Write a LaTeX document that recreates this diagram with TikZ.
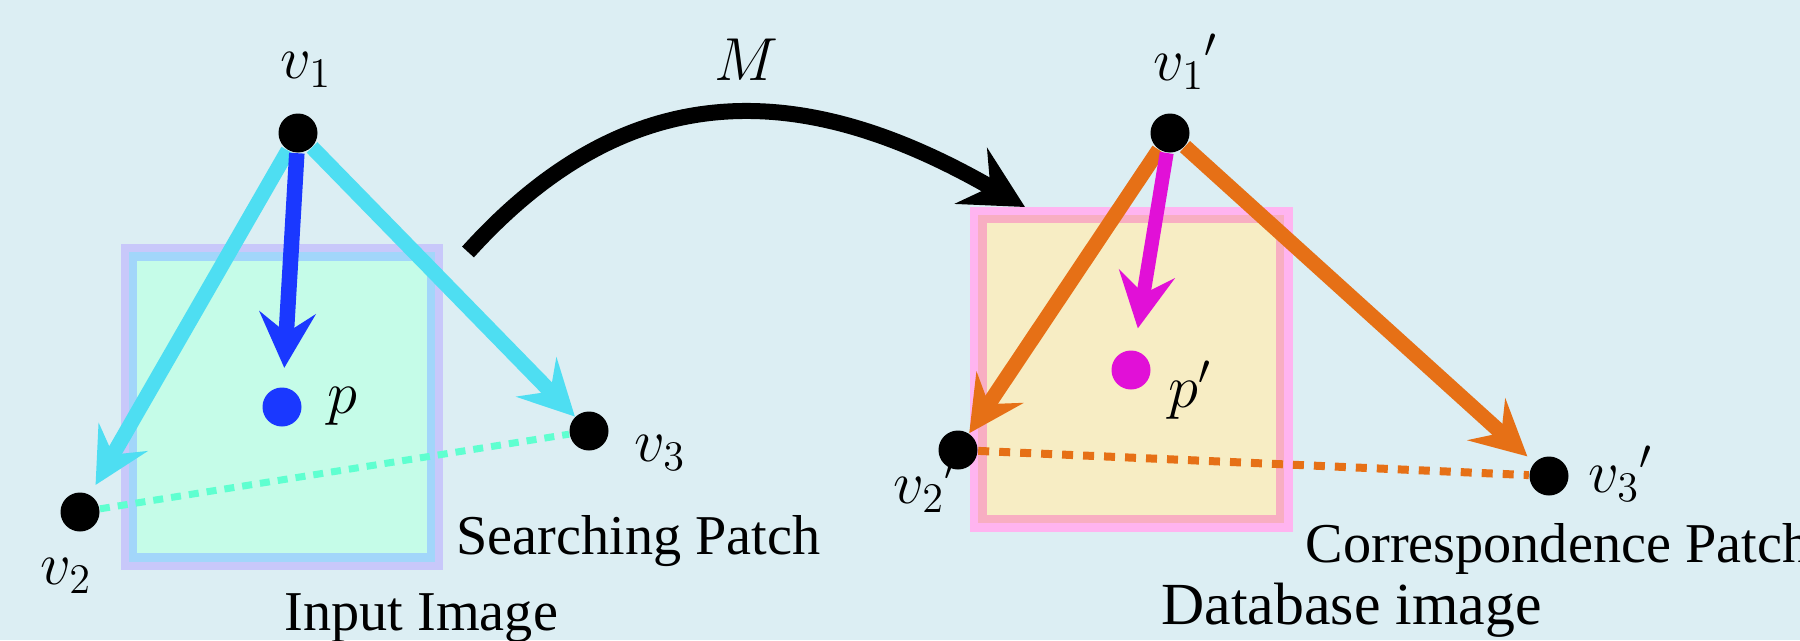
\documentclass[tikz,border=0pt]{standalone}
\usepackage{fontspec}
\setmainfont{Liberation Serif}
\usetikzlibrary{arrows.meta}

\definecolor{bgblue}{RGB}{220,238,243}
\definecolor{patchlav}{RGB}{200,200,250}
\definecolor{patchsky}{RGB}{162,214,250}
\definecolor{patchmint}{RGB}{197,252,232}
\definecolor{raycyan}{RGB}{78,222,242}
\definecolor{rayblue}{RGB}{26,56,255}
\definecolor{dotmint}{RGB}{95,255,208}
\definecolor{patchpink}{RGB}{255,180,240}
\definecolor{patchrose}{RGB}{248,174,194}
\definecolor{patchsand}{RGB}{247,237,196}
\definecolor{rayorange}{RGB}{230,112,22}
\definecolor{raymagenta}{RGB}{225,16,215}

\begin{document}
\begin{tikzpicture}[
    vertex node/.style={circle, fill=black, inner sep=0pt, minimum size=0.39cm},
    point node/.style={circle, fill=#1, inner sep=0pt, minimum size=0.39cm},
    math label/.style={anchor=base west, inner sep=0pt, font=\fontsize{17}{20}\selectfont},
    caption/.style={anchor=base west, inner sep=0pt, font=\fontsize{16}{19}\selectfont},
    ray/.style={draw=#1, line width=0.15cm, -{Stealth[length=0.55cm, width=0.56cm, inset=0.2cm]}},
    tie/.style={draw=#1, line width=0.07cm, dash pattern=on 0.10cm off 0.08cm},
    map line/.style={draw=black, line width=0.16cm, -{Stealth[length=0.62cm, width=0.64cm, inset=0.22cm]}}
]
\useasboundingbox (0,0) rectangle (18,6.4);
\fill[bgblue] (0,0) rectangle (18,6.4);

% Patches
\foreach \c/\d in {patchlav/0, patchsky/0.083, patchmint/0.166} {
    \fill[\c] (1.207+\d, 0.70+\d) rectangle (4.433-\d, 3.96-\d);
}
\foreach \c/\d in {patchpink/0, patchrose/0.083, patchsand/0.166} {
    \fill[\c] (9.70+\d, 1.083+\d) rectangle (12.927-\d, 4.333-\d);
}

% Vertices and points
\node[vertex node] (v1) at (2.98, 5.07) {};
\node[vertex node] (v2) at (0.80, 1.28) {};
\node[vertex node] (v3) at (5.89, 2.09) {};
\node[point node=rayblue] (p) at (2.82, 2.33) {};
\node[vertex node] (v1b) at (11.70, 5.07) {};
\node[vertex node] (v2b) at (9.58, 1.90) {};
\node[vertex node] (v3b) at (15.49, 1.64) {};
\node[point node=raymagenta] (pb) at (11.31, 2.70) {};

% Rays
\draw[tie=dotmint] (v2) -- (v3);
\draw[ray=raycyan, shorten >=0.11cm] (v1) -- (v2);
\draw[ray=raycyan] (v1) -- (v3);
\draw[ray=rayblue, line width=0.155cm, shorten >=0.19cm] (v1) -- (p);
\draw[tie=rayorange, line width=0.08cm, dash pattern=on 0.11cm off 0.10cm] (v2b) -- (v3b);
\draw[ray=rayorange] (v1b) -- (v2b);
\draw[ray=rayorange, shorten >=0.09cm] (v1b) -- (v3b);
\draw[ray=raymagenta, line width=0.14cm, shorten >=0.22cm] (v1b) -- (pb);

% Mapping
\coordinate (mstart) at (4.68, 3.88);
\coordinate (mend) at (10.25, 4.33);
\draw[map line] (mstart) .. controls (6.34, 5.72) and (8.10, 5.57) .. (mend);

% Labels
\node[math label, anchor=base] (mlabel) at (7.46, 5.60) {$M$};
\node[math label] (v1label) at (2.80, 5.62) {$v_1$};
\node[math label] (v2label) at (0.40, 0.56) {$v_2$};
\node[math label] (v3label) at (6.34, 1.79) {$v_3$};
\node[math label] (plabel) at (3.27, 2.27) {$p$};
\node[math label] (v1blabel) at (11.53, 5.60) {${v_1}'$};
\node[math label] (v2blabel) at (8.93, 1.37) {${v_2}'$};
\node[math label] (v3blabel) at (15.88, 1.48) {${v_3}'$};
\node[math label] (pblabel) at (11.68, 2.33) {$p'$};

\node[caption] (search) at (4.56, 0.86) {Searching Patch};
\node[caption] (input) at (2.84, 0.10) {Input Image};
\node[caption] (corr) at (13.05, 0.776) {Correspondence Patch};
\node[caption, font=\fontsize{17}{20}\selectfont] (database) at (11.61, 0.155) {Database image};
\end{tikzpicture}
\end{document}
